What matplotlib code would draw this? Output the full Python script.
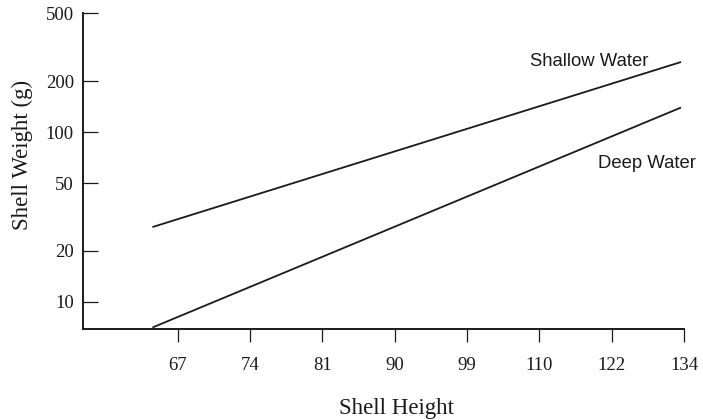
import numpy as np
import matplotlib
matplotlib.use('Agg')
import matplotlib.pyplot as plt

# (log-log plot)
shell_height = [64.8, 133.3]
shallow_weight = [27.7, 258]
deep_weight = [7.1, 139]

x_tick_labels = ['67', '74', '81', '90', '99', '110', '122', '134']
y_ticks = [10, 20, 50, 100, 200, 500]

plt.rcParams['font.family'] = 'Liberation Serif'

fig = plt.figure(figsize=(7.03, 4.2), dpi=100)
ax = fig.add_axes([0.1181, 0.216, 0.973 - 0.1181, 0.9679 - 0.216])

ax.plot(shell_height, shallow_weight, color='#1a1a1a', lw=1.3)
ax.plot(shell_height, deep_weight, color='#1a1a1a', lw=1.3)

ax.set_xscale('log')
ax.set_yscale('log')
ax.set_xlim(58.86, 134)
ax.set_ylim(6.9, 500)

# printed ticks are evenly spaced on the log axis, labels are rounded
ax.set_xticks(np.geomspace(67, 134, len(x_tick_labels)), labels=x_tick_labels)
ax.set_yticks(y_ticks, labels=[str(v) for v in y_ticks])
ax.minorticks_off()

ax.tick_params(axis='y', direction='in', length=10.5, width=0.9, pad=6.5,
               labelsize=13.5, colors='#1a1a1a')
ax.tick_params(axis='x', direction='out', length=9.5, width=0.9, pad=10.5,
               labelsize=13.5, colors='#1a1a1a')

for side in ['top', 'right']:
    ax.spines[side].set_visible(False)
for side in ['left', 'bottom']:
    ax.spines[side].set_linewidth(1.4)
    ax.spines[side].set_color('#1a1a1a')

ax.set_xlabel('Shell Height', fontsize=16.5, color='#1a1a1a', va='baseline')
ax.xaxis.set_label_coords(0.522, -0.268)
ax.set_ylabel('Shell Weight (g)', fontsize=16.5, color='#1a1a1a', va='baseline')
ax.yaxis.set_label_coords(-0.0915, 0.5535)

ax.text(117.7, 244, 'Shallow Water', ha='center', va='baseline',
        family='Liberation Sans', fontsize=13.3, color='#1a1a1a')
ax.text(127.3, 61.1, 'Deep Water', ha='center', va='baseline',
        family='Liberation Sans', fontsize=13.3, color='#1a1a1a')

fig.savefig('out.png', dpi=100)
